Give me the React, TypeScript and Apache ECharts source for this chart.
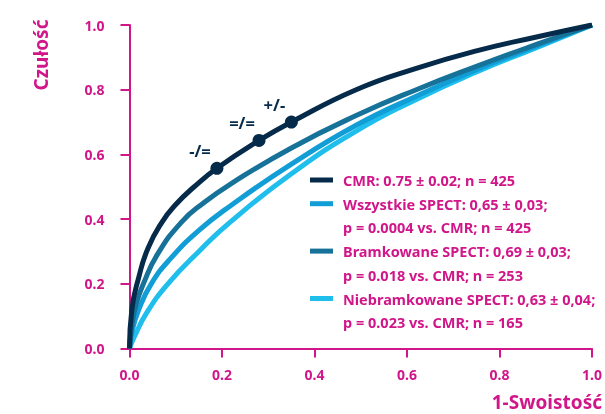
import React, { useEffect, useRef } from "react";
import * as echarts from "echarts";

const MAGENTA = "#D1168A";
const FONT = "'Noto Sans', 'Open Sans', sans-serif";

const cmr: [number, number][] = [
  [0, 0], [0.005, 0.12], [0.02, 0.22], [0.04, 0.31], [0.07, 0.39], [0.1, 0.445],
  [0.14, 0.5], [0.189, 0.557], [0.28, 0.643], [0.35, 0.70], [0.49, 0.80],
  [0.62, 0.866], [0.75, 0.92], [0.88, 0.963], [1, 1],
];
const bramkowane: [number, number][] = [
  [0, 0], [0.005, 0.07], [0.015, 0.14], [0.03, 0.2], [0.06, 0.29], [0.112, 0.39],
  [0.16, 0.45], [0.22, 0.51], [0.35, 0.62], [0.49, 0.72], [0.62, 0.80],
  [0.75, 0.872], [0.88, 0.94], [1, 1],
];
const wszystkie: [number, number][] = [
  [0, 0], [0.005, 0.05], [0.02, 0.12], [0.047, 0.2], [0.09, 0.28], [0.15, 0.365],
  [0.217, 0.44], [0.35, 0.57], [0.49, 0.69], [0.62, 0.78], [0.75, 0.862],
  [0.88, 0.935], [1, 1],
];
const niebramkowane: [number, number][] = [
  [0, 0], [0.01, 0.035], [0.037, 0.11], [0.083, 0.2], [0.15, 0.3], [0.217, 0.39],
  [0.35, 0.54], [0.49, 0.672], [0.62, 0.77], [0.75, 0.855], [0.88, 0.93], [1, 1],
];

const cmrPoints: [number, number][] = [[0.189, 0.557], [0.28, 0.643], [0.35, 0.70]];
const cmrPointLabels = ["-/=", "=/=", "+/-"];

const seriesNames = ["CMR", "Wszystkie SPECT", "Bramkowane SPECT", "Niebramkowane SPECT"];
const seriesColors = ["#062B4A", "#119DD5", "#17729A", "#1FBEEC"];
const legendLines = [
  ["CMR: 0.75 ± 0.02; n = 425"],
  ["Wszystkie SPECT: 0,65 ± 0,03;", "p = 0.0004 vs. CMR; n = 425"],
  ["Bramkowane SPECT: 0,69 ± 0,03;", "p = 0.018 vs. CMR; n = 253"],
  ["Niebramkowane SPECT: 0,63 ± 0,04;", "p = 0.023 vs. CMR; n = 165"],
];

export default function App() {
  const ref = useRef<HTMLDivElement>(null);
  useEffect(() => {
    if (!ref.current) return;
    const chart = echarts.init(ref.current, undefined, { renderer: "svg" });
    const dataByName: Record<string, [number, number][]> = {
      "CMR": cmr,
      "Wszystkie SPECT": wszystkie,
      "Bramkowane SPECT": bramkowane,
      "Niebramkowane SPECT": niebramkowane,
    };
    const drawOrder = ["Niebramkowane SPECT", "Wszystkie SPECT", "Bramkowane SPECT", "CMR"];
    const lineSeries = drawOrder.map((name, i) => ({
      type: "line",
      name,
      data: dataByName[name],
      smooth: 0.5,
      showSymbol: false,
      z: 2 + i,
      lineStyle: { width: 5, color: seriesColors[seriesNames.indexOf(name)] },
    }));

    const legendGraphics: any[] = [];
    let y = 180;
    const rowH = 23.7;
    legendLines.forEach((lines, i) => {
      legendGraphics.push({
        type: "rect",
        shape: { x: 310, y: y - 2.5, width: 23, height: 5 },
        style: { fill: seriesColors[i] },
      });
      lines.forEach((t) => {
        legendGraphics.push({
          type: "text",
          x: 343,
          y,
          style: {
            text: t,
            fill: MAGENTA,
            font: `bold 14.5px ${FONT}`,
            align: "left",
            verticalAlign: "middle",
          },
        });
        y += rowH;
      });
    });

    const tickLabel = {
      color: MAGENTA,
      fontWeight: "bold",
      fontSize: 14,
      fontFamily: FONT,
      formatter: (v: number) => v.toFixed(1),
    };

    chart.setOption({
      animation: false,
      grid: { left: 129.5, right: 11, top: 25, bottom: 65.5 },
      xAxis: {
        type: "value",
        min: 0,
        max: 1,
        interval: 0.2,
        axisLine: { lineStyle: { color: MAGENTA, width: 2 } },
        axisTick: { show: true, length: 9, lineStyle: { color: MAGENTA, width: 2 } },
        splitLine: { show: false },
        axisLabel: { ...tickLabel, margin: 19 },
      },
      yAxis: {
        type: "value",
        min: 0,
        max: 1,
        interval: 0.2,
        axisLine: { show: true, lineStyle: { color: MAGENTA, width: 2 } },
        axisTick: { show: true, length: 9, lineStyle: { color: MAGENTA, width: 2 } },
        splitLine: { show: false },
        axisLabel: { ...tickLabel, margin: 25 },
      },
      series: [
        ...lineSeries,
        {
          type: "scatter",
          data: cmrPoints.map((p, i) => ({ value: p, label: { formatter: cmrPointLabels[i] } })),
          symbolSize: 13,
          z: 10,
          itemStyle: { color: "#062B4A", opacity: 1 },
          label: {
            show: true,
            position: "top",
            offset: [-17, 2],
            color: "#062B4A",
            fontWeight: "bold",
            fontSize: 16.5,
            fontFamily: FONT,
          },
        },
      ],
      graphic: [
        {
          type: "text",
          x: 41,
          y: 55,
          rotation: Math.PI / 2,
          style: {
            text: "Czułość",
            fill: MAGENTA,
            font: `bold 19px ${FONT}`,
            align: "center",
            verticalAlign: "middle",
          },
        },
        {
          type: "text",
          x: 602,
          y: 402,
          style: {
            text: "1-Swoistość",
            fill: MAGENTA,
            font: `bold 19px ${FONT}`,
            align: "right",
            verticalAlign: "middle",
          },
        },
        ...legendGraphics,
      ],
    });
    return () => chart.dispose();
  }, []);
  return <div ref={ref} style={{ width: 605, height: 414, position: "fixed", left: 0, top: 0 }} />;
}
